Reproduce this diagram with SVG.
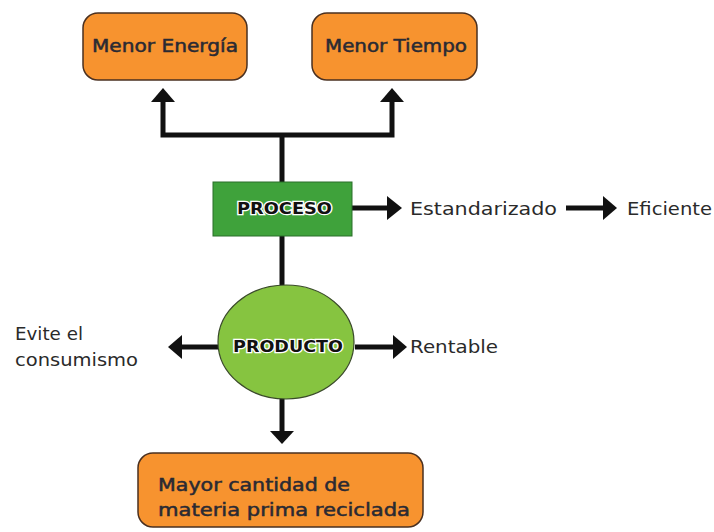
<svg xmlns="http://www.w3.org/2000/svg" width="714" height="532" viewBox="0 0 714 532">
<style>
.box{fill:#f7932f;stroke:#4a3020;stroke-width:1.5}
.bt{font-family:"DejaVu Sans","Open Sans",sans-serif;font-size:17px;fill:#2a2a33;stroke:#2a2a33;stroke-width:0.5}
.lbl{font-family:"DejaVu Sans","Open Sans",sans-serif;font-size:18px;fill:#2a2a2a}
.hv{font-family:"DejaVu Sans","Open Sans",sans-serif;font-size:15px;font-weight:700;fill:#111;stroke:#fff;stroke-width:2.5;paint-order:stroke}
.ln{fill:none;stroke:#111;stroke-width:5}
.ah{fill:#111}
</style>
<rect width="714" height="532" fill="#fff"/>
<g id="connectors">
<path class="ln" d="M163,100 V135 H392 V100"/>
<path class="ln" d="M282,135 V182"/>
<polygon class="ah" points="151,102 175,102 163,88"/>
<polygon class="ah" points="380,102 404,102 392,88"/>
<path class="ln" d="M352,208 H389"/>
<polygon class="ah" points="387,196 387,220 402,208"/>
<path class="ln" d="M566,208 H605"/>
<polygon class="ah" points="603,196 603,220 617,208"/>
<path class="ln" d="M282,236 V285"/>
<path class="ln" d="M218,347 H180"/>
<polygon class="ah" points="182,335 182,359 168,347"/>
<path class="ln" d="M355,347 H395"/>
<polygon class="ah" points="393,335 393,359 407,347"/>
<path class="ln" d="M282,398 V433"/>
<polygon class="ah" points="270,431 294,431 282,444"/>
</g>
<g id="menor-energia">
<rect class="box" x="83" y="13" width="164" height="67" rx="15"/>
<text class="bt" x="92" y="52" textLength="146" lengthAdjust="spacingAndGlyphs">Menor Energía</text>
</g>
<g id="menor-tiempo">
<rect class="box" x="312" y="13" width="165" height="67" rx="15"/>
<text class="bt" x="325" y="52" textLength="142" lengthAdjust="spacingAndGlyphs">Menor Tiempo</text>
</g>
<g id="proceso">
<rect x="213" y="182" width="139" height="54" fill="#3fa23b" stroke="#2b6e2a" stroke-width="1"/>
<text class="hv" x="237" y="214" textLength="95" lengthAdjust="spacingAndGlyphs">PROCESO</text>
</g>
<g id="estandarizado">
<text class="lbl" x="410" y="215" textLength="147" lengthAdjust="spacingAndGlyphs">Estandarizado</text>
</g>
<g id="eficiente">
<text class="lbl" x="627" y="215" textLength="85" lengthAdjust="spacingAndGlyphs">Eficiente</text>
</g>
<g id="producto">
<ellipse cx="286" cy="342" rx="68" ry="57" fill="#86c440" stroke="#3a4a2a" stroke-width="1.2"/>
<text class="hv" x="233" y="352" textLength="110" lengthAdjust="spacingAndGlyphs">PRODUCTO</text>
</g>
<g id="evite">
<text class="lbl" x="15" y="340" textLength="68" lengthAdjust="spacingAndGlyphs">Evite el</text>
<text class="lbl" x="15" y="366" textLength="123" lengthAdjust="spacingAndGlyphs">consumismo</text>
</g>
<g id="rentable">
<text class="lbl" x="410" y="353" textLength="88" lengthAdjust="spacingAndGlyphs">Rentable</text>
</g>
<g id="mayor-cantidad">
<rect class="box" x="138" y="453" width="285" height="74" rx="15"/>
<text class="bt" x="158" y="491" font-size="18" textLength="192" lengthAdjust="spacingAndGlyphs">Mayor cantidad de</text>
<text class="bt" x="158" y="516" font-size="18" textLength="252" lengthAdjust="spacingAndGlyphs">materia prima reciclada</text>
</g>
</svg>
